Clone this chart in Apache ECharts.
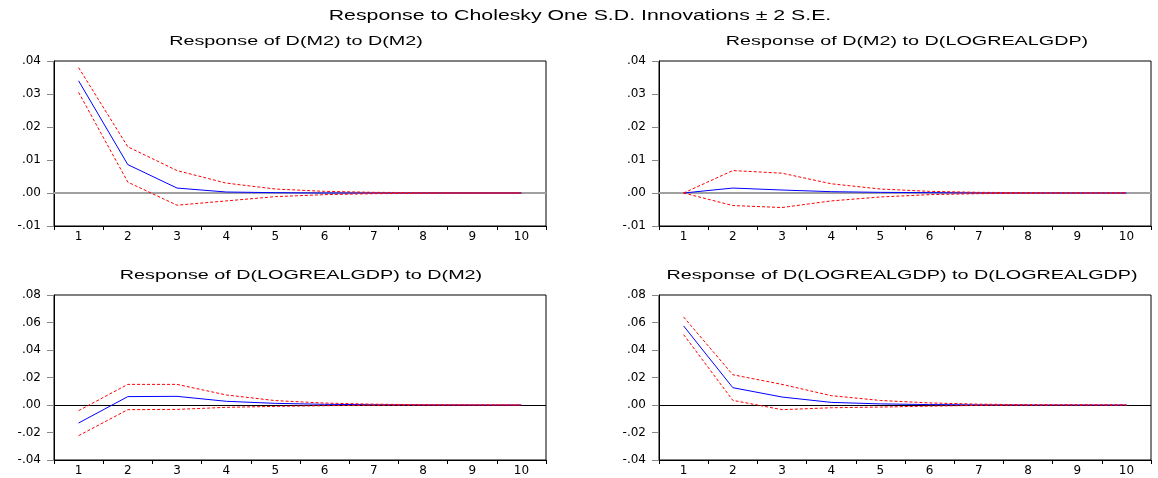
<!DOCTYPE html>
<html>
<head>
<meta charset="utf-8">
<script src="https://cdn.jsdelivr.net/npm/echarts@6/dist/echarts.min.js"></script>
<style>html,body{margin:0;padding:0;background:#fff}#c{width:1158px;height:478px}</style>
</head>
<body>
<div id="c"></div>
<script>
const periods = ['1','2','3','4','5','6','7','8','9','10'];
const mainTitle = 'Response to Cholesky One S.D. Innovations \u00b1 2 S.E.';
const panelTitles = ['Response of D(M2) to D(M2)', 'Response of D(M2) to D(LOGREALGDP)',
  'Response of D(LOGREALGDP) to D(M2)', 'Response of D(LOGREALGDP) to D(LOGREALGDP)'];

// Panel 1: D(M2) -> D(M2)
const p1Resp  = [0.0340, 0.0086, 0.0015, 0.0003, 0.0001, 0.0000, 0.0000, 0.0000, 0.0000, 0.0000];
const p1Upper = [0.0380, 0.0140, 0.0068, 0.0030, 0.0012, 0.0005, 0.0002, 0.0001, 0.0000, 0.0000];
const p1Lower = [0.0305, 0.0033, -0.0037, -0.0024, -0.0011, -0.0005, -0.0002, -0.0001, 0.0000, 0.0000];
// Panel 2: D(M2) -> D(LOGREALGDP)
const p2Resp  = [0.0000, 0.0015, 0.0009, 0.0004, 0.0002, 0.0001, 0.0000, 0.0000, 0.0000, 0.0000];
const p2Upper = [0.0000, 0.0068, 0.0060, 0.0028, 0.0012, 0.0005, 0.0002, 0.0001, 0.0000, 0.0000];
const p2Lower = [0.0000, -0.0038, -0.0044, -0.0024, -0.0012, -0.0005, -0.0002, -0.0001, 0.0000, 0.0000];
// Panel 3: D(LOGREALGDP) -> D(M2)
const p3Resp  = [-0.0131, 0.0061, 0.0063, 0.0027, 0.0012, 0.0005, 0.0002, 0.0001, 0.0000, 0.0000];
const p3Upper = [-0.0041, 0.0150, 0.0150, 0.0073, 0.0032, 0.0014, 0.0006, 0.0002, 0.0001, 0.0000];
const p3Lower = [-0.0223, -0.0034, -0.0032, -0.0017, -0.0010, -0.0005, -0.0002, -0.0001, 0.0000, 0.0000];
// Panel 4: D(LOGREALGDP) -> D(LOGREALGDP)
const p4Resp  = [0.0575, 0.0126, 0.0058, 0.0019, 0.0008, 0.0003, 0.0001, 0.0000, 0.0000, 0.0000];
const p4Upper = [0.0640, 0.0220, 0.0150, 0.0068, 0.0033, 0.0015, 0.0006, 0.0002, 0.0001, 0.0000];
const p4Lower = [0.0512, 0.0034, -0.0034, -0.0020, -0.0015, -0.0008, -0.0003, -0.0001, 0.0000, 0.0000];

const topTicks = {min: -0.01, max: 0.04, interval: 0.01};
const botTicks = {min: -0.04, max: 0.08, interval: 0.02};

const panels = [
  {resp: p1Resp, up: p1Upper, lo: p1Lower, ticks: topTicks, zero: {color:'#a0a0a0', width:2}},
  {resp: p2Resp, up: p2Upper, lo: p2Lower, ticks: topTicks, zero: {color:'#a0a0a0', width:2}},
  {resp: p3Resp, up: p3Upper, lo: p3Lower, ticks: botTicks, zero: {color:'#000000', width:1}},
  {resp: p4Resp, up: p4Upper, lo: p4Lower, ticks: botTicks, zero: {color:'#000000', width:1}}
];

const FONT = '"Liberation Sans", Arial, sans-serif';
const LABELFONT = '"DejaVu Sans", "Liberation Sans", sans-serif';
const gridPos = [
  {left: 54, top: 61, width: 492, height: 165},
  {left: 659, top: 61, width: 492, height: 165},
  {left: 54, top: 295, width: 492, height: 165},
  {left: 659, top: 295, width: 492, height: 165}
];
const titlePos = [
  {x: 296, y: 35}, {x: 907, y: 35}, {x: 301, y: 269}, {x: 902, y: 269}
];

function fmt(v) {
  if (Math.abs(v) < 1e-9) return '.00';
  const s = v.toFixed(2);
  return s.replace(/^(-?)0\./, '$1.');
}

const graphics = [{
  type: 'text', x: 580, y: 9, scaleX: 1.52, silent: true,
  style: {text: mainTitle, font: '14px ' + FONT, fill: '#000', textAlign: 'center', textVerticalAlign: 'top'}
}].concat(panelTitles.map((t, i) => ({
  type: 'text', x: titlePos[i].x, y: titlePos[i].y, scaleX: 1.52, silent: true,
  style: {text: t, font: '13px ' + FONT, fill: '#000', textAlign: 'center', textVerticalAlign: 'top'}
})));

const option = {
  animation: false,
  backgroundColor: '#ffffff',
  textStyle: {fontFamily: FONT},
  graphic: graphics,
  grid: gridPos.map(g => Object.assign({show: true, borderColor: '#000', borderWidth: 1, containLabel: false}, g)),
  xAxis: panels.map((p, i) => ({
    type: 'category', gridIndex: i, data: periods, boundaryGap: true,
    axisLine: {onZero: false, lineStyle: {color: '#000', width: 1}},
    axisTick: {show: true, alignWithLabel: false, length: 4, lineStyle: {color: '#000'}},
    axisLabel: {color: '#000', fontSize: 12, fontFamily: LABELFONT, margin: 5},
    splitLine: {show: false}
  })),
  yAxis: panels.map((p, i) => ({
    type: 'value', gridIndex: i, min: p.ticks.min, max: p.ticks.max, interval: p.ticks.interval,
    axisLine: {show: true, lineStyle: {color: '#000', width: 1}},
    axisTick: {show: true, length: 7, lineStyle: {color: '#888'}},
    axisLabel: {color: '#000', fontSize: 12, fontFamily: LABELFONT, margin: 13, formatter: fmt},
    splitLine: {show: false}
  })),
  series: []
};

panels.forEach((p, i) => {
  option.series.push({
    type: 'line', xAxisIndex: i, yAxisIndex: i, data: [], symbol: 'none', z: 1, silent: true,
    markLine: {silent: true, symbol: 'none', label: {show: false}, z: 1,
      lineStyle: {color: p.zero.color, width: p.zero.width, type: 'solid'},
      data: [{yAxis: 0}]}
  });
  option.series.push({
    type: 'line', xAxisIndex: i, yAxisIndex: i, data: p.up, symbol: 'none', z: 3,
    lineStyle: {color: '#ff0000', width: 1, type: [3, 2]}, silent: true
  });
  option.series.push({
    type: 'line', xAxisIndex: i, yAxisIndex: i, data: p.lo, symbol: 'none', z: 3,
    lineStyle: {color: '#ff0000', width: 1, type: [3, 2]}, silent: true
  });
  option.series.push({
    type: 'line', xAxisIndex: i, yAxisIndex: i, data: p.resp, symbol: 'none', z: 2,
    lineStyle: {color: '#0000ff', width: 1}, silent: true
  });
});

const chart = echarts.init(document.getElementById('c'), null, {renderer: 'canvas'});
chart.setOption(option);
</script>
</body>
</html>
